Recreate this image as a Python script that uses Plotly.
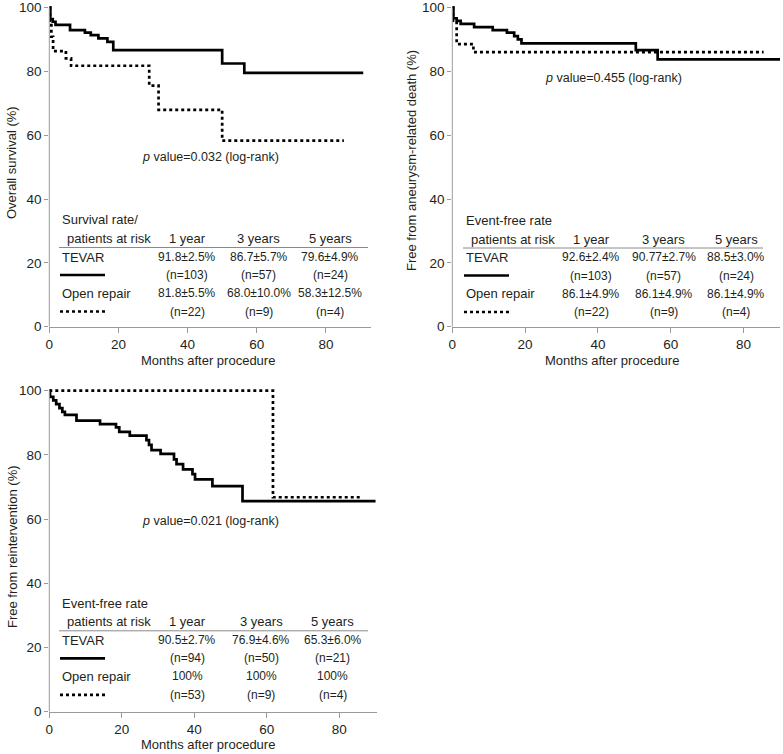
import plotly.graph_objects as go

W, H = 783, 754
OFF = 0  # body margin removed in the page via post_script

# ---------------- data ----------------
# Panel A: overall survival
os_tevar_t = [0, 0.3, 1.0, 1.8, 6.0, 10.3, 12.0, 14.2, 16.8, 18.5, 50.0, 56.4, 90.8]
os_tevar_s = [100, 96.4, 95.6, 94.6, 93.0, 92.2, 91.4, 90.4, 89.3, 86.7, 82.5, 79.6, 79.6]
os_open_t = [0, 0.2, 0.6, 1.1, 4.8, 6.3, 28.9, 31.6, 50.0, 85.2]
os_open_s = [100, 95.5, 90.9, 86.4, 84.1, 81.8, 75.6, 68.0, 58.3, 58.3]

# Panel B: free from aneurysm-related death
ard_tevar_t = [0, 0.3, 1.2, 2.3, 6.0, 11.1, 15.0, 17.0, 18.0, 19.0, 50.4, 56.4, 90.0]
ard_tevar_s = [100, 96.7, 95.9, 94.9, 93.9, 93.0, 92.2, 91.1, 90.1, 88.8, 86.7, 83.8, 83.8]
ard_open_t = [0, 0.2, 1.2, 5.8, 85.5]
ard_open_s = [100, 95.5, 88.6, 86.1, 86.1]

# Panel C: free from reintervention
ri_tevar_t = [0, 0.2, 1.1, 1.9, 2.8, 3.6, 4.3, 7.5, 14.0, 18.4, 19.3, 22.2, 26.8, 27.5,
              28.2, 30.7, 34.4, 35.1, 36.9, 39.5, 40.2, 45.0, 53.3, 90.0]
ri_tevar_s = [100, 98.1, 97.0, 95.8, 94.6, 93.4, 92.5, 90.7, 89.6, 88.6, 87.2, 86.0, 84.6, 83.1,
              81.5, 80.3, 78.6, 77.1, 75.5, 74.0, 72.4, 70.3, 65.6, 65.6]
ri_open_t = [0, 61.7, 86.0]
ri_open_s = [100, 66.8, 66.8]

p_values = ["0.032", "0.455", "0.021"]
y_titles = ["Overall survival (%)", "Free from aneurysm-related death (%)", "Free from reintervention (%)"]
x_title = "Months after procedure"
col_labels = ["1 year", "3 years", "5 years"]
row_groups = ["TEVAR", "Open repair"]
table_heads = [["Survival rate/", "patients at risk"],
               ["Event-free rate", "patients at risk"],
               ["Event-free rate", "patients at risk"]]
rates = [
    [["91.8±2.5%", "86.7±5.7%", "79.6±4.9%"], ["81.8±5.5%", "68.0±10.0%", "58.3±12.5%"]],
    [["92.6±2.4%", "90.77±2.7%", "88.5±3.0%"], ["86.1±4.9%", "86.1±4.9%", "86.1±4.9%"]],
    [["90.5±2.7%", "76.9±4.6%", "65.3±6.0%"], ["100%", "100%", "100%"]],
]
at_risk = [
    [["(n=103)", "(n=57)", "(n=24)"], ["(n=22)", "(n=9)", "(n=4)"]],
    [["(n=103)", "(n=57)", "(n=24)"], ["(n=22)", "(n=9)", "(n=4)"]],
    [["(n=94)", "(n=50)", "(n=21)"], ["(n=53)", "(n=9)", "(n=4)"]],
]

# ---------------- styling / layout ----------------
FONT = "Liberation Sans, Arial, sans-serif"
TXT = "#231f20"
AX = "#9a9a9a"
FS = 13        # words
NFS = 12       # table numbers
TFS = 13.5     # tick labels
PFS = 12.5     # p-value

def px(x):
    return (x - OFF) / W

def py(y):
    return 1 - (y - OFF) / H

panels = [
    dict(x0=49.3, x1=370.5, xmax=92.9, ybase=326.7, ppu=3.19, xa="x", ya="y", ty=0,
         ytx=12, yty=163, xtx=208.3,
         curves=[(os_tevar_t, os_tevar_s, "solid"), (os_open_t, os_open_s, "dot")],
         p_xy=(46.6, 53.3)),
    dict(x0=452.3, x1=780.0, xmax=90.0, ybase=326.7, ppu=3.19, xa="x2", ya="y2", ty=0,
         ytx=411, yty=161, xtx=611.7,
         curves=[(ard_tevar_t, ard_tevar_s, "solid"), (ard_open_t, ard_open_s, "dot")],
         p_xy=(44.4, 77.9)),
    dict(x0=49.3, x1=377.0, xmax=90.4, ybase=711.7, ppu=3.21, xa="x3", ya="y3", ty=384.0,
         ytx=12, yty=547, xtx=208.3,
         curves=[(ri_tevar_t, ri_tevar_s, "solid"), (ri_open_t, ri_open_s, "dot")],
         p_xy=(44.5, 59.5)),
]

YTOP = 101.0

fig = go.Figure()
annotations = []
shapes = []
layout_axes = {}

def ann(x, y, text, size=FS, xanchor="center", **kw):
    d = dict(xref="paper", yref="paper", x=px(x), y=py(y), text=text, showarrow=False,
             xanchor=xanchor, yanchor="middle",
             font=dict(family=FONT, size=size, color=TXT))
    d.update(kw)
    annotations.append(d)

for i, pn in enumerate(panels):
    for t, s, dash in pn["curves"]:
        fig.add_trace(go.Scatter(
            x=t, y=s, mode="lines",
            line=dict(shape="hv", color="black", width=2.7, dash=dash),
            xaxis=pn["xa"], yaxis=pn["ya"], showlegend=False, hoverinfo="skip"))

    xname = "xaxis" if pn["xa"] == "x" else "xaxis" + pn["xa"][1:]
    yname = "yaxis" if pn["ya"] == "y" else "yaxis" + pn["ya"][1:]
    ytop_px = pn["ybase"] - YTOP * pn["ppu"]
    layout_axes[xname] = dict(
        domain=[px(pn["x0"]), px(pn["x1"])], range=[0, pn["xmax"]], anchor=pn["ya"],
        tickmode="array", tickvals=[0, 20, 40, 60, 80], ticks="outside", ticklen=5,
        tickcolor=AX, tickwidth=1, showline=True, linecolor=AX, linewidth=1,
        showgrid=False, zeroline=False, automargin=False,
        tickfont=dict(family=FONT, size=TFS, color=TXT), fixedrange=True)
    layout_axes[yname] = dict(
        domain=[py(pn["ybase"]), py(ytop_px)], range=[0, YTOP], anchor=pn["xa"],
        tickmode="array", tickvals=[0, 20, 40, 60, 80, 100], ticks="outside", ticklen=4,
        tickcolor=AX, tickwidth=1, showline=False, showgrid=False, zeroline=False,
        automargin=False,
        tickfont=dict(family=FONT, size=TFS, color=TXT), fixedrange=True)
    shapes.append(dict(type="line", xref=pn["xa"] + " domain", yref=pn["ya"],
                       x0=0, x1=0, y0=0, y1=100, line=dict(color=AX, width=1)))

    annotations.append(dict(xref=pn["xa"], yref=pn["ya"], x=pn["p_xy"][0], y=pn["p_xy"][1],
                            text="<i>p</i> value=%s (log-rank)" % p_values[i], showarrow=False,
                            font=dict(family=FONT, size=PFS, color=TXT)))
    ann(pn["ytx"], pn["yty"], y_titles[i], textangle=-90)
    ann(pn["xtx"], pn["ty"] + 360.0, x_title)

# ---------------- tables ----------------
tables = [
    dict(lx=60, cols=[187.3, 258.5, 330.0], hr=(59, 368), y0=220.0),
    dict(lx=464, cols=[591.0, 663.5, 736.0], hr=(463, 763), y0=220.5),
    dict(lx=60, cols=[187.3, 261.0, 332.5], hr=(59, 368), y0=603.3),
]

for i, tb in enumerate(tables):
    base = tb["y0"]
    yh2 = base + 18.5
    yrule = base + 27.5
    yr = [base + 37, base + 55, base + 73, base + 91.5]
    lx = tb["lx"]
    ann(lx, base, table_heads[i][0], xanchor="left")
    ann(lx + 5, yh2, table_heads[i][1], xanchor="left")
    for c, lab in enumerate(col_labels):
        ann(tb["cols"][c], yh2, lab)
    shapes.append(dict(type="line", xref="paper", yref="paper",
                       x0=px(tb["hr"][0]), x1=px(tb["hr"][1]), y0=py(yrule), y1=py(yrule),
                       line=dict(color="#8a8a8a", width=1)))
    for g in range(2):
        y_name = yr[2 * g]
        y_n = yr[2 * g + 1]
        ann(lx, y_name, row_groups[g], xanchor="left")
        for c in range(3):
            ann(tb["cols"][c], y_name, rates[i][g][c], size=NFS)
            ann(tb["cols"][c], y_n, at_risk[i][g][c], size=NFS)
        shapes.append(dict(type="line", xref="paper", yref="paper",
                           x0=px(lx), x1=px(lx + 45), y0=py(y_n), y1=py(y_n),
                           line=dict(color="black", width=2.7, dash="solid" if g == 0 else "dot")))

fig.update_layout(
    template="none",
    width=W, height=H, margin=dict(l=0, r=0, t=0, b=0, pad=0),
    paper_bgcolor="white", plot_bgcolor="white",
    font=dict(family=FONT, size=FS, color=TXT),
    annotations=annotations, shapes=shapes, showlegend=False,
    **layout_axes)

fig.write_html("out.html",
               config={"displayModeBar": False, "staticPlot": True},
               post_script="document.body.style.margin='0';document.body.style.overflow='hidden';")
